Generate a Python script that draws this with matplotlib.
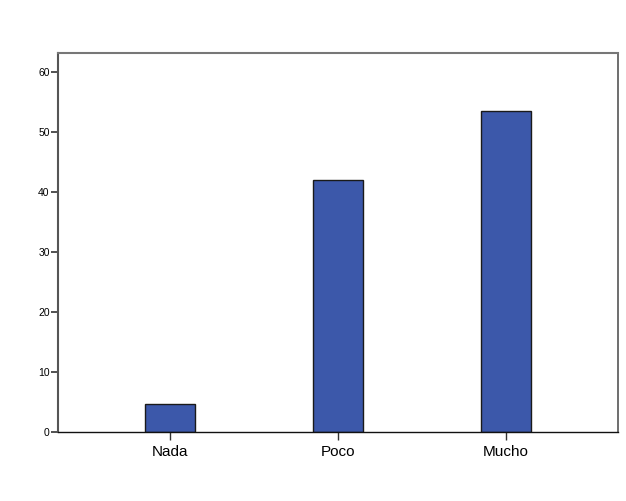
import matplotlib
import matplotlib.pyplot as plt

matplotlib.use("Agg")

categories = ["Nada", "Poco", "Mucho"]
values = [4.7, 42.0, 53.5]
y_ticks = [0, 10, 20, 30, 40, 50, 60]

plt.rcParams["font.family"] = ["Liberation Sans", "DejaVu Sans"]

fig = plt.figure(figsize=(6.26, 5.01), dpi=100)
# axes box: left 58, right 618, top 53, bottom 432 (pixels)
ax = fig.add_axes([58 / 626, 1 - 432 / 501, 560 / 626, 379 / 501])

x = range(len(categories))
ax.bar(x, values, width=0.30, color="#3C58AA", edgecolor="#1a1a1a", linewidth=1.0, zorder=2)

ax.set_xlim(-0.667, 2.667)
ax.set_ylim(0, 63.2)
ax.set_xticks(list(x))
ax.set_xticklabels(categories, fontsize=11)
ax.set_yticks(y_ticks)
ax.set_yticklabels([str(t) for t in y_ticks], fontsize=7.5)

ax.tick_params(axis="x", length=6, width=1, color="#333333", pad=3)
ax.tick_params(axis="y", length=5, width=1.2, color="#333333", pad=1)

ax.spines["left"].set_color("#555555")
ax.spines["left"].set_linewidth(1.5)
ax.spines["bottom"].set_color("#111111")
ax.spines["bottom"].set_linewidth(1.0)
ax.spines["top"].set_color("#777777")
ax.spines["top"].set_linewidth(1.5)
ax.spines["right"].set_color("#555555")
ax.spines["right"].set_linewidth(1.2)

fig.savefig("out.png", dpi=100)
plt.close(fig)
